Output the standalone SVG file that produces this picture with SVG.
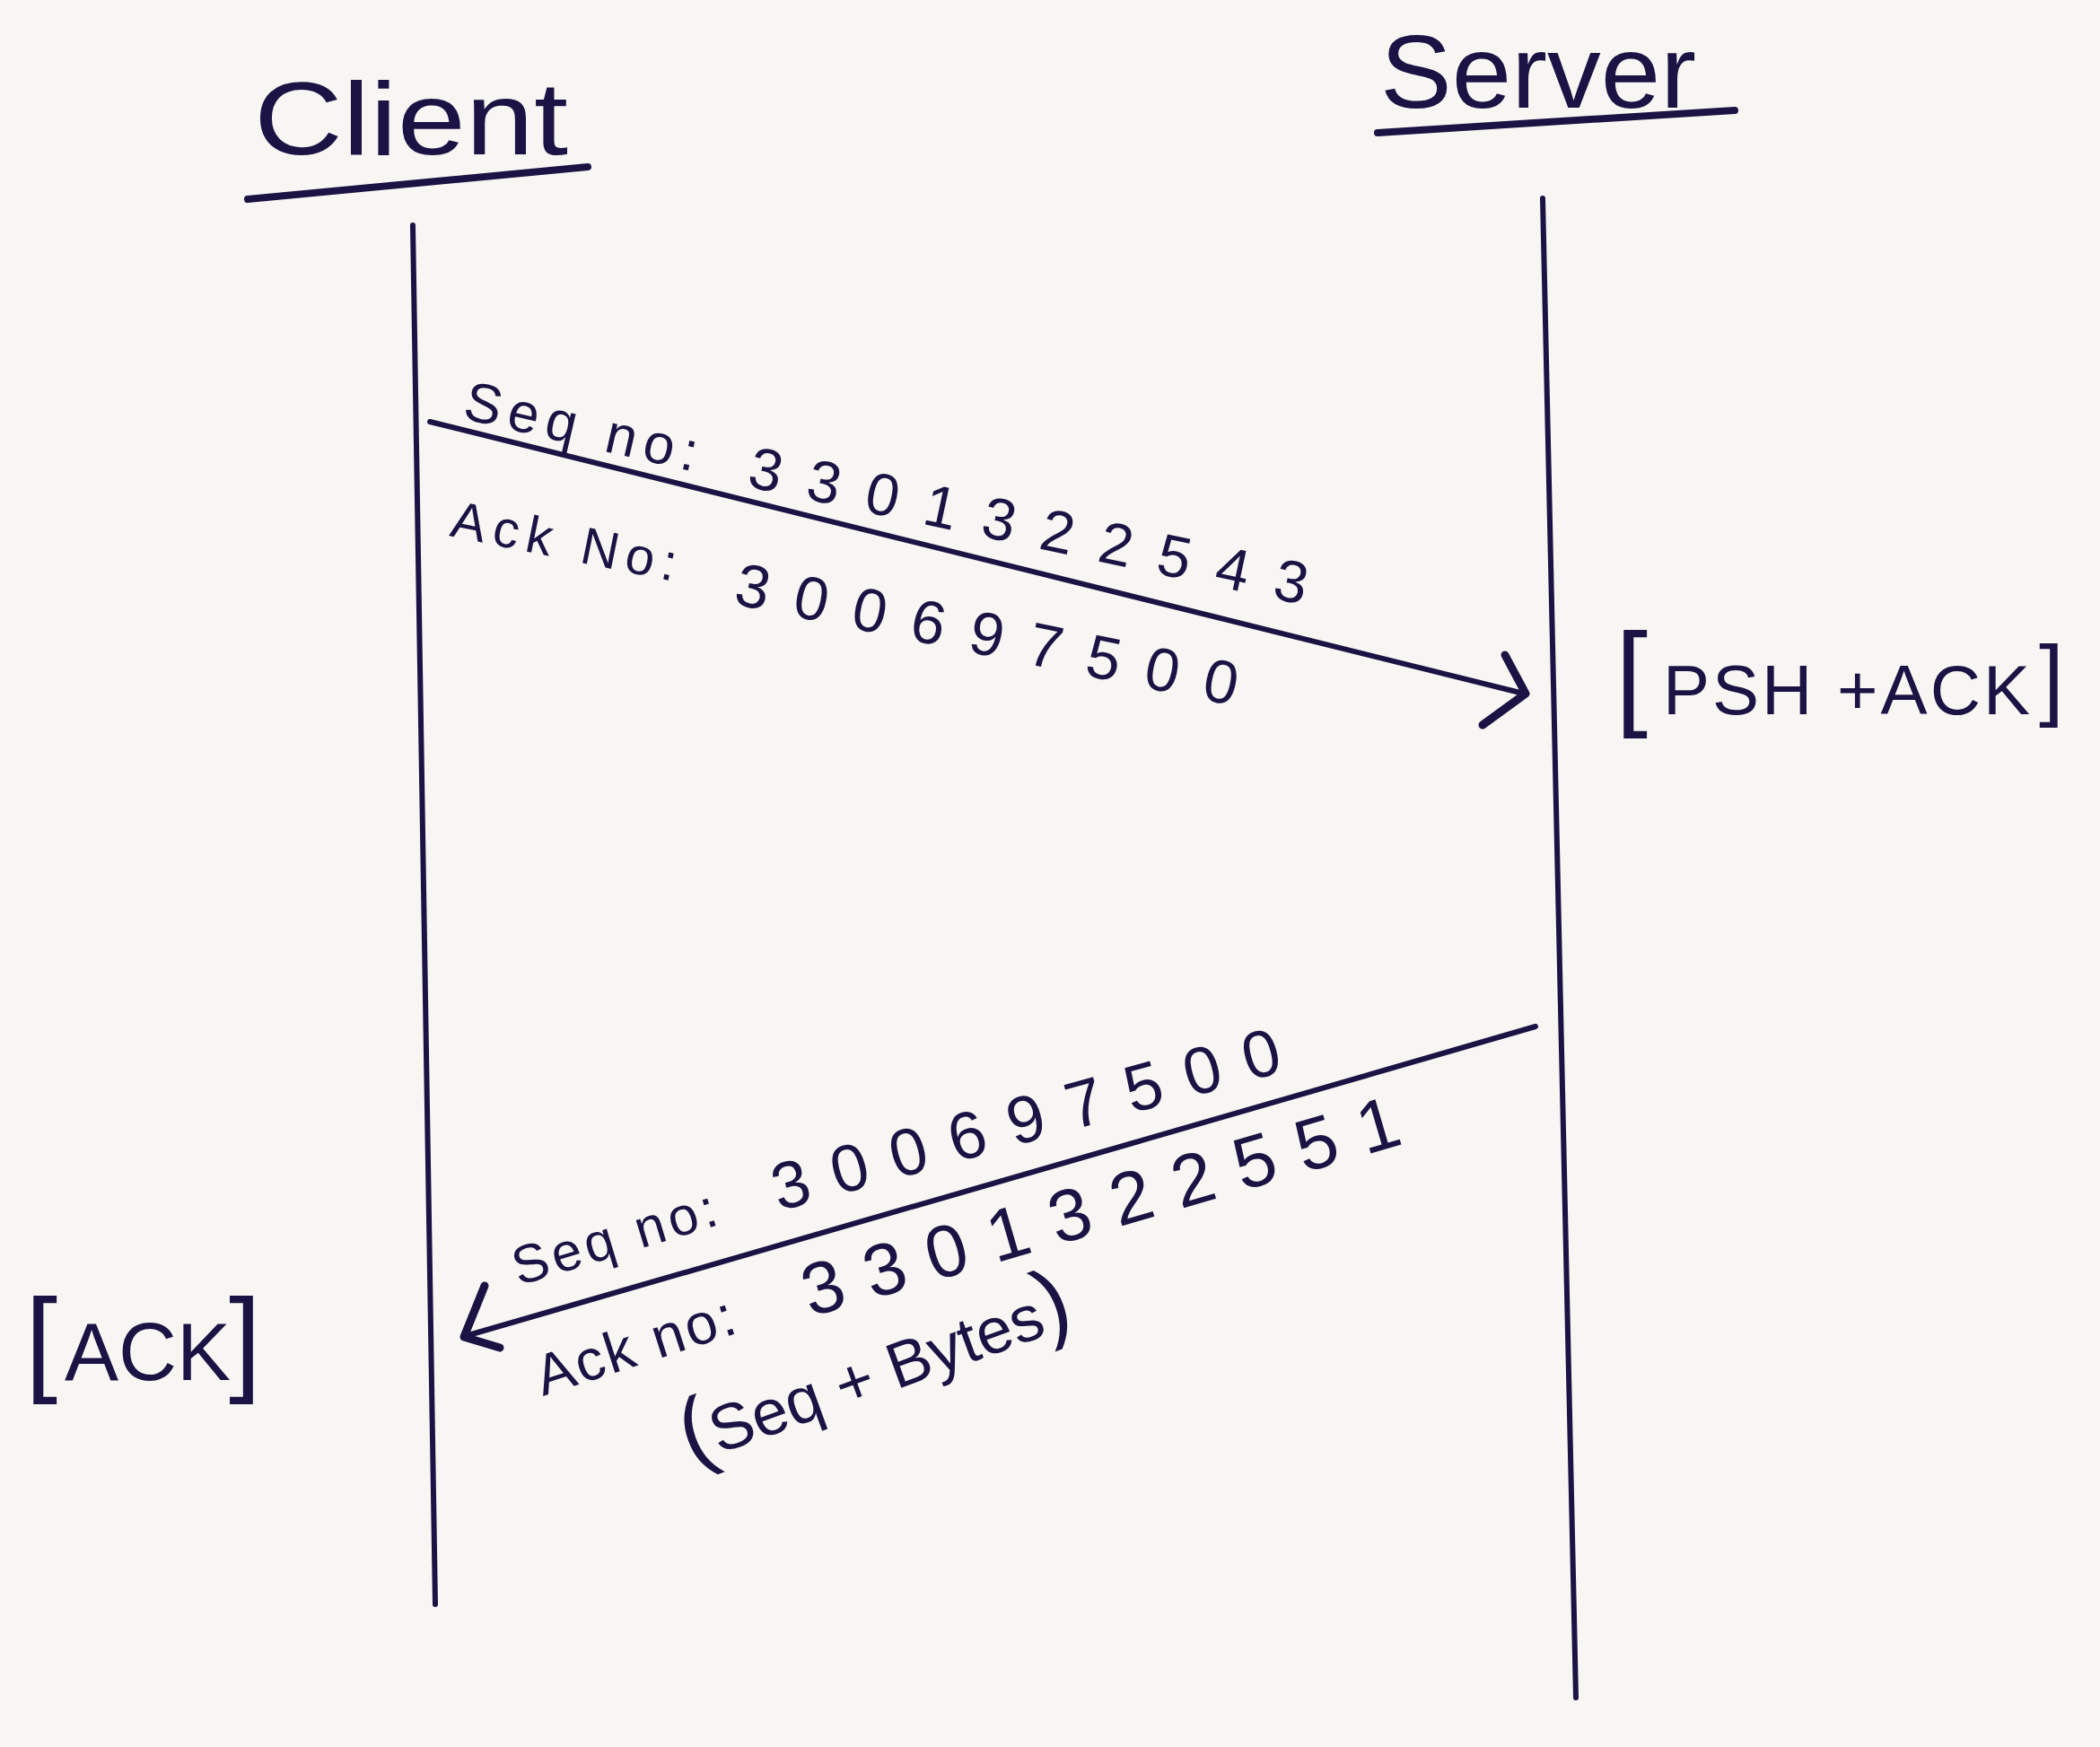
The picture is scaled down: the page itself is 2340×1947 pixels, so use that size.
<svg xmlns="http://www.w3.org/2000/svg" width="2340" height="1947" viewBox="0 0 2340 1947">
<style>
.ink{stroke:#1a1344;fill:none;stroke-linecap:round;stroke-linejoin:round}
.life{stroke-width:6}
.ul{stroke-width:8}
.arr{stroke-width:6}
.head{stroke-width:9}
text{font-family:"Liberation Sans",Arial,sans-serif;fill:#1a1344}
.title{font-size:115px}
</style>
<rect width="2340" height="1947" fill="#f7f6f2"/>
<g id="client">
<text class="title" x="283" y="172" textLength="350" lengthAdjust="spacingAndGlyphs">Client</text>
<line class="ink ul" x1="276" y1="222" x2="655" y2="186"/>
<line class="ink life" x1="460" y1="251" x2="485" y2="1788"/>
</g>
<g id="server">
<text class="title" x="1538" y="120" font-size="110" textLength="352" lengthAdjust="spacingAndGlyphs">Server</text>
<line class="ink ul" x1="1535" y1="148" x2="1933" y2="123"/>
<line class="ink life" x1="1719" y1="221" x2="1756" y2="1892"/>
</g>
<g id="state-psh-ack">
<text y="796"><tspan x="1800" font-size="130">[</tspan><tspan x="1853" font-size="78" letter-spacing="3">PSH +ACK</tspan><tspan x="2272" font-size="100" dy="-6">]</tspan></text>
</g>
<g id="state-ack">
<text y="1538"><tspan x="28" font-size="130">[</tspan><tspan x="72" font-size="90">ACK</tspan><tspan x="255" font-size="130">]</tspan></text>
</g>
<g id="connectors">
<g id="msg-psh-ack">
<line class="ink arr" x1="479" y1="470" x2="1698" y2="773"/>
<polyline class="ink head" points="1677,730 1700,773 1652,808"/>
<text transform="translate(514,466) rotate(13)" font-size="62" textLength="265">Seq no:</text>
<text transform="translate(831,542) rotate(12)" font-size="66" textLength="635">3301322543</text>
<text transform="translate(500,597) rotate(11.5)" font-size="58" textLength="255">Ack No:</text>
<text transform="translate(816,673) rotate(11.5)" font-size="68" textLength="570">300697500</text>
</g>
<g id="msg-ack">
<line class="ink arr" x1="1711" y1="1144" x2="522" y2="1488"/>
<polyline class="ink head" points="540,1433 517,1490 557,1502"/>
<text transform="translate(578,1433) rotate(-17)" font-size="60" textLength="235">Seq no:</text>
<text transform="translate(868,1350) rotate(-15.5)" font-size="74" textLength="585">300697500</text>
<text transform="translate(605,1556) rotate(-18)" font-size="64" textLength="230">Ack no:</text>
<text transform="translate(903,1468) rotate(-16.3)" font-size="82" textLength="690">3301322551</text>
<text transform="translate(770,1632) rotate(-20)"><tspan font-size="100">(</tspan><tspan font-size="72">Seq + Bytes</tspan><tspan font-size="100">)</tspan></text>
</g>
</g>
</svg>
